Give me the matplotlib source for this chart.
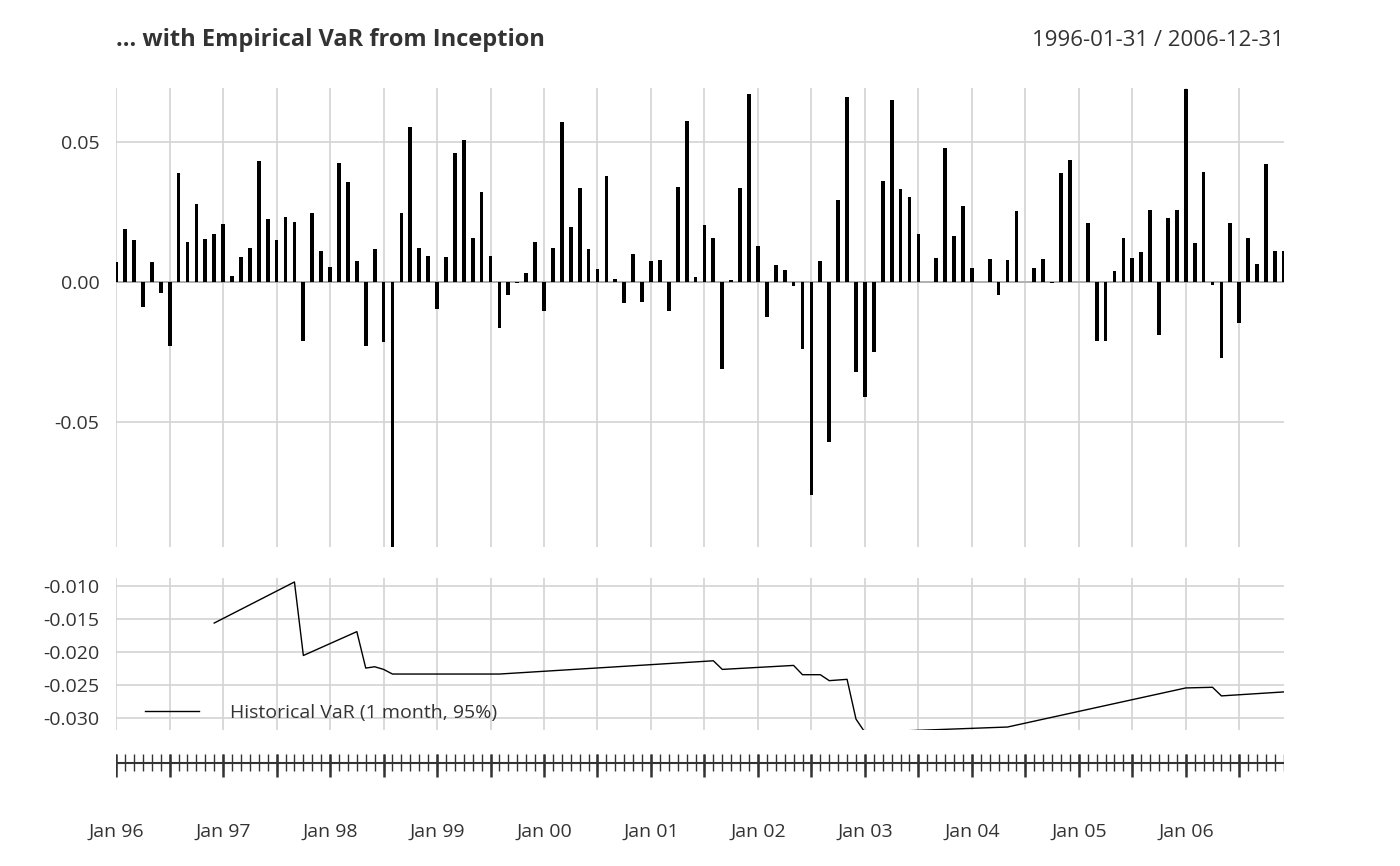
import numpy as np
import matplotlib
matplotlib.use("Agg")
import matplotlib.pyplot as plt

plt.rcParams['font.family'] = ['Open Sans', 'DejaVu Sans']

# monthly returns, Jan 1996 .. Dec 2006
returns = [
    0.0071, 0.019, 0.015, -0.009, 0.0072, -0.004, -0.023, 0.039, 0.0143, 0.028, 0.0154, 0.0172,
    0.0207, 0.002, 0.009, 0.012, 0.0433, 0.0227, 0.015, 0.0232, 0.0214, -0.021, 0.0246, 0.011,
    0.0054, 0.0425, 0.0358, 0.0075, -0.023, 0.0118, -0.0215, -0.095, 0.0246, 0.0554, 0.0122, 0.0093,
    -0.0095, 0.009, 0.046, 0.0507, 0.0157, 0.032, 0.0094, -0.0165, -0.0045, -0.0005, 0.0032, 0.0143,
    -0.0105, 0.012, 0.057, 0.0197, 0.0336, 0.0118, 0.0047, 0.038, 0.001, -0.0075, 0.010, -0.007,
    0.0075, 0.0078, -0.0105, 0.034, 0.0575, 0.0018, 0.0204, 0.0157, -0.031, 0.0007, 0.0336, 0.067,
    0.013, -0.0125, 0.006, 0.0043, -0.0015, -0.024, -0.076, 0.0075, -0.057, 0.0293, 0.066, -0.032,
    -0.041, -0.025, 0.036, 0.065, 0.0333, 0.0304, 0.0172, 0.0, 0.0086, 0.048, 0.0165, 0.027,
    0.005, 0.0, 0.0082, -0.0046, 0.0078, 0.0254, 0.0, 0.005, 0.0082, -0.0005, 0.039, 0.0436,
    0.0, 0.021, -0.021, -0.0212, 0.004, 0.0157, 0.0086, 0.0107, 0.0257, -0.0189, 0.0229, 0.0257,
    0.069, 0.0139, 0.0393, -0.001, -0.027, 0.021, -0.0146, 0.0157, 0.0064, 0.042, 0.011, 0.011,
]

# historical VaR line, vertices
var_dates = ['1996-12', '1997-09', '1997-10', '1998-04', '1998-05', '1998-06', '1998-07', '1998-08',
             '1999-08', '2001-08', '2001-09', '2002-05', '2002-06', '2002-08', '2002-09', '2002-11',
             '2002-12', '2003-01', '2004-05', '2006-01', '2006-04', '2006-05', '2006-12']
var_values = [-0.0156, -0.0094, -0.0205, -0.0169, -0.0224, -0.0222, -0.0226, -0.0233,
              -0.0233, -0.0213, -0.0226, -0.0220, -0.0234, -0.0234, -0.0243, -0.0241,
              -0.0301, -0.0321, -0.0313, -0.0254, -0.0253, -0.0266, -0.0260]

year_labels = ['Jan 96', 'Jan 97', 'Jan 98', 'Jan 99', 'Jan 00', 'Jan 01',
               'Jan 02', 'Jan 03', 'Jan 04', 'Jan 05', 'Jan 06']


def month_index(s):
    y, m = s.split('-')
    return (int(y) - 1996) * 12 + int(m) - 1


W, H = 1400, 866
x = np.arange(len(returns))
var_x = [month_index(d) for d in var_dates]
xlim = (-0.02, len(returns) - 1 + 0.02)
grid_c = '#d3d3d3'
txt_c = '#333333'
fs = 14

fig = plt.figure(figsize=(W / 100, H / 100), dpi=100)


def pix_axes(x0, y0, x1, y1):
    return fig.add_axes([x0 / W, 1 - y1 / H, (x1 - x0) / W, (y1 - y0) / H])


def style(ax, yticks, fmt):
    for s in ax.spines.values():
        s.set_visible(False)
    ax.set_xlim(*xlim)
    ax.set_xticks(np.arange(0, len(returns), 6))
    ax.set_xticklabels([])
    ax.set_yticks(yticks)
    ax.set_yticklabels([fmt % v for v in yticks], color=txt_c, fontsize=fs)
    ax.tick_params(length=0, pad=12)
    ax.grid(True, color=grid_c, lw=1.2)
    ax.set_axisbelow(True)


# top panel
ax1 = pix_axes(116, 88, 1284, 547)
ax1.bar(x, returns, width=0.42, color='black', zorder=3)
ax1.axhline(0, color='#aaaaaa', lw=1.2, zorder=2)
ax1.set_ylim(-0.0946, 0.0693)
style(ax1, [-0.05, 0.0, 0.05], '%.2f')

# bottom panel
ax2 = pix_axes(116, 578, 1284, 730)
ax2.plot(var_x, var_values, color='black', lw=1, label='Historical VaR (1 month, 95%)')
ax2.set_ylim(-0.03175, -0.0088)
style(ax2, [-0.030, -0.025, -0.020, -0.015, -0.010], '%.3f')
leg = ax2.legend(loc='lower left', frameon=False, fontsize=fs, handlelength=2.8,
                 handletextpad=1.6, borderaxespad=0.0, bbox_to_anchor=(0.018, 0.0))
for t in leg.get_texts():
    t.set_color(txt_c)

# time axis strip
ax3 = pix_axes(116, 745, 1284, 780)
ax3.set_xlim(*xlim)
ax3.set_ylim(0, 1)
ax3.axis('off')
ax3.axhline(0.5, color=txt_c, lw=1.5)
ax3.vlines(x, 0.25, 0.75, color=txt_c, lw=1)
ax3.vlines(np.arange(0, len(returns), 6), 0.1, 0.75, color=txt_c, lw=1.8)
for i, lab in enumerate(year_labels):
    fig.text((116 + i * 12 * (1168 / 131)) / W, 1 - 832 / H, lab, ha='center', va='center',
             color=txt_c, fontsize=fs)

fig.text(116 / W, 1 - 40 / H, '... with Empirical VaR from Inception', fontsize=17,
         fontweight='bold', color=txt_c, va='center')
fig.text(1284 / W, 1 - 40 / H, '1996-01-31 / 2006-12-31', fontsize=16, color=txt_c,
         va='center', ha='right')

fig.savefig('out.png', dpi=100)
